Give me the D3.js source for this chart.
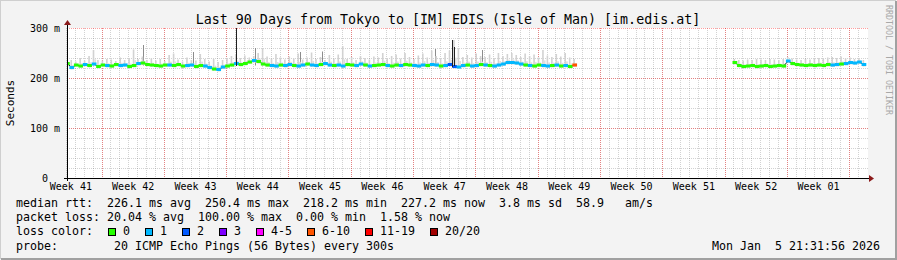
<!DOCTYPE html>
<html>
<head>
<meta charset="utf-8">
<script src="https://cdn.jsdelivr.net/npm/d3@7"></script>
<style>
body { margin: 0; background: #f3f3f3; }
svg text { font-family: "DejaVu Sans Mono", monospace; white-space: pre; }
</style>
</head>
<body>
<svg id="canvas" width="897" height="260"></svg>
<script>
// time range of the graph (UTC used as local)
var end_time = new Date(Date.UTC(2026, 0, 5, 21, 31, 56));
var start_time = new Date(end_time.getTime() - 90 * 86400000);

var week_labels = ['Week 41', 'Week 42', 'Week 43', 'Week 44', 'Week 45', 'Week 46', 'Week 47',
                   'Week 48', 'Week 49', 'Week 50', 'Week 51', 'Week 52', 'Week 01'];
var y_labels = ['0', '100 m', '200 m', '300 m'];
var y_label_values = [0, 100, 200, 300];

var loss_labels = ['0', '1', '2', '3', '4-5', '6-10', '11-19', '20/20'];
var loss_colors = ['#26ff00', '#00b8ff', '#0059ff', '#7e00ff', '#ff00ff', '#ff5500', '#ff0000', '#a10000'];

// samples every 12 hours, first block starts at day 0, second block at day 75
var block_a_start_day = 0;
var block_b_start_day = 75;

var median_a = [
    229, 221, 226, 224, 227, 225, 228, 223, 226, 225,
    224, 227, 225, 226, 223, 225, 229, 230, 227, 226,
    225, 224, 226, 226, 225, 227, 224, 225, 226, 223,
    225, 224, 221, 218, 217, 222, 224, 226, 229, 227,
    229, 232, 235, 233, 228, 226, 225, 224, 226, 225,
    227, 225, 224, 226, 228, 226, 225, 227, 229, 226,
    225, 226, 224, 227, 226, 225, 228, 226, 224, 225,
    226, 227, 225, 224, 226, 225, 227, 226, 225, 224,
    226, 225, 227, 226, 224, 225, 227, 223, 222, 225,
    226, 224, 225, 227, 226, 225, 224, 226, 228, 231,
    231, 230, 228, 226, 225, 224, 226, 225, 224, 225,
    226, 224, 225, 223, 226
];
var smoke_a = [
    234, 236, 233, 240, 235, 244, 256, 236, 235, 238,
    237, 234, 241, 236, 240, 257, 238, 243, 236, 239,
    235, 238, 234, 246, 249, 237, 233, 241, 236, 235,
    248, 238, 233, 238, 232, 236, 240, 244, 246, 240,
    245, 241, 244, 250, 260, 243, 239, 248, 241, 237,
    243, 239, 249, 237, 241, 251, 238, 242, 236, 246,
    239, 247, 264, 238, 242, 236, 244, 240, 237, 243,
    241, 250, 238, 244, 247, 239, 250, 242, 238, 245,
    249, 241, 255, 244, 240, 250, 255, 276, 258, 242,
    246, 241, 249, 244, 242, 247, 240, 250, 244, 248,
    250, 246, 242, 249, 244, 247, 241, 256, 245, 242,
    248, 243, 250, 241, 238
];
var loss_a = [
    0, 1, 0, 0, 1, 0, 1, 0, 0, 1,
    0, 0, 1, 1, 0, 0, 1, 0, 0, 0,
    0, 0, 0, 1, 0, 0, 0, 1, 1, 0,
    0, 1, 1, 0, 1, 1, 0, 0, 1, 0,
    0, 0, 1, 0, 0, 0, 1, 1, 0, 1,
    1, 0, 1, 1, 0, 1, 1, 0, 1, 1,
    0, 1, 1, 0, 0, 1, 1, 0, 1, 0,
    0, 0, 1, 0, 0, 1, 0, 0, 1, 1,
    1, 0, 1, 1, 0, 1, 2, 2, 1, 1,
    0, 1, 1, 0, 1, 0, 1, 1, 1, 1,
    1, 1, 1, 0, 1, 0, 0, 1, 1, 0,
    1, 0, 1, 0, 5
];

var median_b = [
    231, 225, 223, 224, 225, 223, 224, 225, 223, 224,
    225, 224, 234, 229, 227, 226, 225, 226, 225, 226,
    225, 227, 226, 227, 228, 229, 231, 230, 232, 227
];
var smoke_b = [
    238, 236, 235, 237, 236, 238, 237, 236, 238, 237,
    236, 238, 242, 239, 237, 236, 238, 237, 239, 240,
    238, 241, 242, 240, 243, 239, 241, 238, 240, 236
];
var loss_b = [
    0, 0, 0, 0, 0, 0, 0, 0, 0, 0,
    0, 0, 1, 0, 0, 0, 0, 0, 0, 0,
    0, 0, 1, 1, 0, 1, 1, 1, 1, 1
];

// short median excursions (day, low, high) drawn as black strokes
var spike_days = [19.2, 43.5, 43.7];
var spike_lows = [224, 222, 224];
var spike_highs = [305, 276, 262];
// darker smoke strokes (day, top)
var dark_smoke_days = [8.8, 14.4, 21.3, 26.4, 28.9, 41.6, 46.8];
var dark_smoke_tops = [266, 252, 260, 252, 253, 258, 256];

var legend_lines = [
    'median rtt:  226.1 ms avg  250.4 ms max  218.2 ms min  227.2 ms now  3.8 ms sd  58.9   am/s',
    'packet loss: 20.04 % avg  100.00 % max  0.00 % min  1.58 % now',
    'loss color:',
    'probe:        20 ICMP Echo Pings (56 Bytes) every 300s'
];
var timestamp_text = 'Mon Jan  5 21:31:56 2026';
var title_text = 'Last 90 Days from Tokyo to [IM] EDIS (Isle of Man) [im.edis.at]';

draw_chart();

function day_to_time(day){
    return new Date(start_time.getTime() + day * 86400000);
}

function draw_chart(){
    var plot = {left: 67, right: 868, top: 28, bottom: 178};
    var svg = d3.select('#canvas');

    draw_frame(svg);

    svg.append('rect')
        .attr('x', plot.left).attr('y', plot.top)
        .attr('width', plot.right - plot.left).attr('height', plot.bottom - plot.top)
        .attr('fill', '#ffffff');

    var x_scale = d3.scaleUtc()
        .domain([start_time, end_time])
        .range([plot.left - 2, plot.right - 2]);
    var y_scale = d3.scaleLinear()
        .domain([0, 300])
        .range([plot.bottom, plot.top]);

    draw_grid(svg, x_scale, y_scale, plot);

    svg.append('clipPath').attr('id', 'plot-clip')
        .append('rect')
        .attr('x', plot.left).attr('y', plot.top)
        .attr('width', plot.right - plot.left).attr('height', plot.bottom - plot.top);
    var plot_area = svg.append('g').attr('clip-path', 'url(#plot-clip)');

    draw_dark_smoke(plot_area, x_scale, y_scale);
    draw_block(plot_area, x_scale, y_scale, block_a_start_day, median_a, smoke_a, loss_a);
    draw_block(plot_area, x_scale, y_scale, block_b_start_day, median_b, smoke_b, loss_b);
    draw_spikes(plot_area, x_scale, y_scale);

    draw_axes(svg, x_scale, y_scale, plot);
    draw_texts(svg);
    draw_legend(svg);
}

function draw_frame(svg){
    svg.append('rect').attr('x', 0).attr('y', 0).attr('width', 897).attr('height', 260).attr('fill', '#f3f3f3');
    // 3d-ish border
    svg.append('path').attr('d', 'M0,259V0H896').attr('stroke', '#cfcfcf').attr('stroke-width', 2).attr('fill', 'none');
    svg.append('path').attr('d', 'M1,259H896V1').attr('stroke', '#a0a0a0').attr('stroke-width', 2).attr('fill', 'none');
}

function draw_grid(svg, x_scale, y_scale, plot){
    var grid = svg.append('g');
    var days = d3.utcDay.range(start_time, end_time);
    var weeks = d3.utcWeek.range(start_time, end_time);

    grid.selectAll('.minor-x')
        .data(days)
        .enter()
        .append('line')
        .attr('class', 'minor-x')
        .attr('x1', function(d){return Math.round(x_scale(d)) + 0.5})
        .attr('x2', function(d){return Math.round(x_scale(d)) + 0.5})
        .attr('y1', plot.top).attr('y2', plot.bottom)
        .attr('stroke', 'rgba(92,92,92,0.28)')
        .attr('stroke-dasharray', '1,1');

    grid.selectAll('.minor-y')
        .data(d3.range(20, 300, 20))
        .enter()
        .append('line')
        .attr('class', 'minor-y')
        .attr('x1', plot.left).attr('x2', plot.right)
        .attr('y1', function(d){return Math.round(y_scale(d)) + 0.5})
        .attr('y2', function(d){return Math.round(y_scale(d)) + 0.5})
        .attr('stroke', 'rgba(92,92,92,0.28)')
        .attr('stroke-dasharray', '1,1');

    grid.selectAll('.major-x')
        .data(weeks)
        .enter()
        .append('line')
        .attr('class', 'major-x')
        .attr('x1', function(d){return Math.round(x_scale(d)) + 0.5})
        .attr('x2', function(d){return Math.round(x_scale(d)) + 0.5})
        .attr('y1', plot.top).attr('y2', plot.bottom)
        .attr('stroke', 'rgba(255,0,0,0.38)')
        .attr('stroke-dasharray', '1,1');

    grid.selectAll('.major-y')
        .data(y_label_values)
        .enter()
        .append('line')
        .attr('class', 'major-y')
        .attr('x1', plot.left).attr('x2', plot.right)
        .attr('y1', function(d){return Math.round(y_scale(d)) + 0.5})
        .attr('y2', function(d){return Math.round(y_scale(d)) + 0.5})
        .attr('stroke', 'rgba(255,0,0,0.38)')
        .attr('stroke-dasharray', '1,1');
}

function draw_dark_smoke(plot_area, x_scale, y_scale){
    plot_area.selectAll('.dark-smoke')
        .data(dark_smoke_days)
        .enter()
        .append('line')
        .attr('class', 'dark-smoke')
        .attr('x1', function(d){return Math.round(x_scale(day_to_time(d))) + 0.5})
        .attr('x2', function(d){return Math.round(x_scale(day_to_time(d))) + 0.5})
        .attr('y1', y_scale(225))
        .attr('y2', function(d, i){return y_scale(dark_smoke_tops[i])})
        .attr('stroke', '#8c8c8c');
}

function draw_block(plot_area, x_scale, y_scale, start_day, median, smoke, loss){
    var points = median.map(function(m, i){
        return {time: day_to_time(start_day + i * 0.5), median: m, smoke: smoke[i], loss: loss[i]};
    });
    var step = x_scale(day_to_time(0.5)) - x_scale(start_time);

    // smoke as thin strokes above the median
    plot_area.selectAll(null)
        .data(points)
        .enter()
        .append('rect')
        .attr('x', function(d){return x_scale(d.time) + 1})
        .attr('y', function(d){return y_scale(d.smoke)})
        .attr('width', 1.6)
        .attr('height', function(d){return y_scale(d.median) - y_scale(d.smoke) + 2})
        .attr('fill', '#d2d2d2');
    plot_area.selectAll(null)
        .data(points)
        .enter()
        .append('rect')
        .attr('x', function(d){return x_scale(d.time) + 2.6})
        .attr('y', function(d){return (y_scale(d.smoke) + 2 * y_scale(d.median)) / 3})
        .attr('width', 1.8)
        .attr('height', function(d){return (y_scale(d.median) - y_scale(d.smoke)) / 3 + 2})
        .attr('fill', '#dedede');

    // median line
    var median_line = d3.line()
        .x(function(d){return x_scale(d.time) + step / 2})
        .y(function(d){return y_scale(d.median)});
    plot_area.append('path')
        .datum(points)
        .attr('d', median_line)
        .attr('fill', 'none')
        .attr('stroke', '#202020')
        .attr('stroke-width', 1);

    // loss coloured band around the median
    plot_area.selectAll(null)
        .data(points)
        .enter()
        .append('rect')
        .attr('x', function(d){return x_scale(d.time)})
        .attr('y', function(d){return y_scale(d.median) - 1.5})
        .attr('width', step + 0.3)
        .attr('height', 3)
        .attr('fill', function(d){return loss_colors[d.loss]});
}

function draw_spikes(plot_area, x_scale, y_scale){
    plot_area.selectAll('.spike')
        .data(spike_days)
        .enter()
        .append('line')
        .attr('class', 'spike')
        .attr('x1', function(d){return Math.round(x_scale(day_to_time(d))) + 0.5})
        .attr('x2', function(d){return Math.round(x_scale(day_to_time(d))) + 0.5})
        .attr('y1', function(d, i){return y_scale(spike_lows[i])})
        .attr('y2', function(d, i){return y_scale(spike_highs[i])})
        .attr('stroke', '#202020');
}

function draw_axes(svg, x_scale, y_scale, plot){
    var label_dates = d3.utcWeek.range(start_time, d3.utcDay.offset(end_time, 4)).map(function(d){
        return new Date(d.getTime() - 3.5 * 86400000);
    });

    var x_axis = svg.append('g')
        .attr('transform', 'translate(0,' + plot.bottom + ')')
        .call(d3.axisBottom(x_scale)
              .tickValues(label_dates)
              .tickSize(0)
              .tickPadding(5)
              .tickFormat(function(d, i){return week_labels[i]}));
    x_axis.select('.domain').remove();
    x_axis.selectAll('text').attr('font-size', 10).attr('fill', '#000').attr('font-family', null);

    var y_axis = svg.append('g')
        .attr('transform', 'translate(' + plot.left + ',0)')
        .call(d3.axisLeft(y_scale)
              .tickValues(y_label_values)
              .tickSize(0)
              .tickPadding(7)
              .tickFormat(function(d, i){return y_labels[i]}));
    y_axis.select('.domain').remove();
    y_axis.selectAll('text')
        .attr('font-size', 10).attr('fill', '#000').attr('font-family', null)
        .attr('dx', function(d){return d === 0 ? -12 : 0});

    // axis lines with arrows
    svg.append('line')
        .attr('x1', plot.left - 3).attr('x2', plot.right + 2)
        .attr('y1', plot.bottom + 0.5).attr('y2', plot.bottom + 0.5)
        .attr('stroke', '#000');
    svg.append('line')
        .attr('x1', plot.left + 0.5).attr('x2', plot.left + 0.5)
        .attr('y1', plot.bottom + 3).attr('y2', plot.top - 4)
        .attr('stroke', '#000');
    svg.append('path')
        .attr('d', 'M' + (plot.right + 1) + ',' + (plot.bottom - 3) + 'L' + (plot.right + 6) + ',' + (plot.bottom + 0.5) + 'L' + (plot.right + 1) + ',' + (plot.bottom + 4) + 'Z')
        .attr('fill', '#8b1a1a');
    svg.append('path')
        .attr('d', 'M' + (plot.left - 3) + ',' + (plot.top - 3) + 'L' + (plot.left + 0.5) + ',' + (plot.top - 8) + 'L' + (plot.left + 4) + ',' + (plot.top - 3) + 'Z')
        .attr('fill', '#8b1a1a');
}

function draw_texts(svg){
    svg.append('text')
        .attr('x', 448).attr('y', 24)
        .attr('text-anchor', 'middle')
        .attr('font-size', 13.3)
        .attr('fill', '#000')
        .text(title_text);

    svg.append('text')
        .attr('transform', 'translate(14,103) rotate(-90)')
        .attr('text-anchor', 'middle')
        .attr('font-size', 11)
        .attr('fill', '#000')
        .text('Seconds');

    svg.append('text')
        .attr('transform', 'translate(886,60) rotate(90)')
        .attr('text-anchor', 'middle')
        .attr('font-size', 8.3)
        .attr('fill', '#a8a8a8')
        .text('RRDTOOL / TOBI OETIKER');
}

function draw_legend(svg){
    var baselines = [207, 221.3, 235.3, 249.5];
    svg.selectAll('.legend-line')
        .data(legend_lines)
        .enter()
        .append('text')
        .attr('class', 'legend-line')
        .attr('x', 16)
        .attr('y', function(d, i){return baselines[i]})
        .attr('font-size', 11.63)
        .attr('fill', '#000')
        .text(function(d){return d});

    var box_x = 108;
    loss_labels.forEach(function(label, i){
        svg.append('rect')
            .attr('x', box_x + 0.5).attr('y', 228.5)
            .attr('width', 7).attr('height', 7)
            .attr('fill', loss_colors[i])
            .attr('stroke', '#000');
        svg.append('text')
            .attr('x', box_x + 15).attr('y', baselines[2])
            .attr('font-size', 11.63)
            .attr('fill', '#000')
            .text(label);
        box_x = box_x + 15 + label.length * 7 + 15;
    });

    svg.append('text')
        .attr('x', 880).attr('y', baselines[3])
        .attr('text-anchor', 'end')
        .attr('font-size', 11.63)
        .attr('fill', '#000')
        .text(timestamp_text);
}
</script>
</body>
</html>
